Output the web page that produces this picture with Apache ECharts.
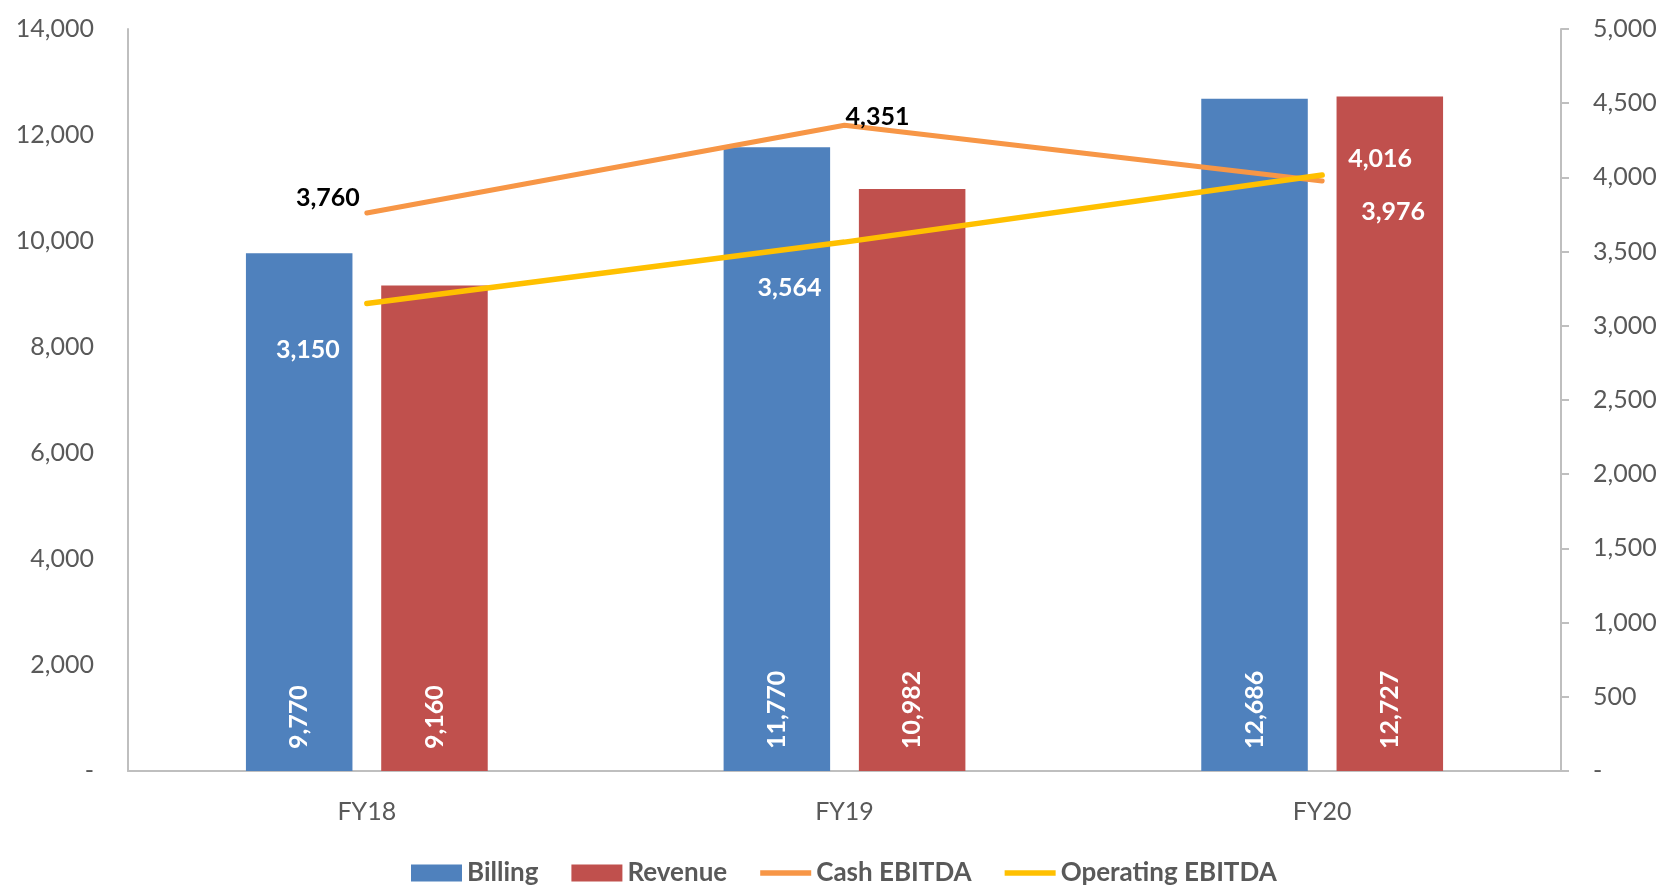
<!DOCTYPE html>
<html>
<head>
<meta charset="utf-8">
<script src="https://cdn.jsdelivr.net/npm/echarts@6/dist/echarts.min.js"></script>
<style>
html,body{margin:0;padding:0;background:#fff;}
#chart{width:1665px;height:887px;}
</style>
</head>
<body>
<div id="chart"></div>
<script>
const categories = ['FY18', 'FY19', 'FY20'];
const billing = [9770, 11770, 12686];
const revenue = [9160, 10982, 12727];
const cashEbitda = [3760, 4351, 3976];
const operatingEbitda = [3150, 3564, 4016];
const leftTicks = { min: 0, max: 14000, interval: 2000 };
const rightTicks = { min: 0, max: 5000, interval: 500 };

// label placement (style only)
const cashLabelOffsets = [[-39, -15], [33, -8], [71, 31]];
const cashLabelColors = ['#000000', '#000000', '#ffffff'];
const opLabelOffsets = [[-59, 46], [-55, 46], [58, -16]];
const opLabelColors = ['#ffffff', '#ffffff', '#ffffff'];

const FONT = 'Lato';
const fmt = v => v === 0 ? '-' : Number(v).toLocaleString('en-US');

function lineData(vals, offsets, colors) {
  return vals.map((v, i) => ({
    value: v,
    label: { offset: offsets[i], color: colors[i] }
  }));
}

const chart = echarts.init(document.getElementById('chart'), null, { renderer: 'canvas' });
const barLabel = {
  show: true,
  position: 'insideBottom',
  rotate: 90,
  align: 'left',
  verticalAlign: 'middle',
  distance: 22,
  color: '#ffffff',
  fontFamily: FONT,
  fontWeight: 'bold',
  fontSize: 25,
  formatter: p => fmt(p.value)
};
const lineLabel = {
  show: true,
  position: 'inside',
  fontFamily: FONT,
  fontWeight: 'bold',
  fontSize: 25,
  formatter: p => fmt(p.value)
};
const lineIcon = 'path://M0,0 L9,0 L9,1 L0,1 Z';

chart.setOption({
  animation: false,
  backgroundColor: '#ffffff',
  color: ['#4F81BD', '#C0504D', '#F79646', '#FFC000'],
  grid: { left: 128, right: 104, top: 29, bottom: 116, containLabel: false },
  legend: {
    top: 855,
    left: 406,
    itemWidth: 51,
    itemHeight: 17,
    itemGap: 33,
    textStyle: { fontFamily: FONT, fontWeight: 'bold', fontSize: 26, color: '#595959' },
    data: [
      { name: 'Billing', icon: 'rect' },
      { name: 'Revenue', icon: 'rect' },
      { name: 'Cash EBITDA', icon: lineIcon },
      { name: 'Operating EBITDA', icon: lineIcon }
    ]
  },
  xAxis: {
    type: 'category',
    data: categories,
    axisLine: { show: true, lineStyle: { color: '#BFBFBF', width: 2 } },
    axisTick: { show: false },
    axisLabel: { margin: 28, fontFamily: FONT, fontSize: 25, color: '#595959' }
  },
  yAxis: [
    {
      type: 'value',
      min: leftTicks.min, max: leftTicks.max, interval: leftTicks.interval,
      axisLine: { show: true, lineStyle: { color: '#BFBFBF', width: 2 } },
      axisTick: { show: false },
      splitLine: { show: false },
      axisLabel: { margin: 34, fontFamily: FONT, fontSize: 25, color: '#595959', formatter: fmt }
    },
    {
      type: 'value',
      position: 'right',
      min: rightTicks.min, max: rightTicks.max, interval: rightTicks.interval,
      axisLine: { show: true, lineStyle: { color: '#BFBFBF', width: 2 } },
      axisTick: { show: true, inside: false, length: 8, lineStyle: { color: '#BFBFBF', width: 2 } },
      splitLine: { show: false },
      axisLabel: { margin: 32, fontFamily: FONT, fontSize: 25, color: '#595959', formatter: fmt }
    }
  ],
  series: [
    {
      name: 'Billing', type: 'bar', yAxisIndex: 0,
      data: billing, barWidth: '22.3%', barGap: '27%',
      label: barLabel, z: 2
    },
    {
      name: 'Revenue', type: 'bar', yAxisIndex: 0,
      data: revenue, barWidth: '22.3%', barGap: '27%',
      label: barLabel, z: 2
    },
    {
      name: 'Cash EBITDA', type: 'line', yAxisIndex: 1,
      data: lineData(cashEbitda, cashLabelOffsets, cashLabelColors),
      symbol: 'circle', symbolSize: 1, showSymbol: true,
      lineStyle: { width: 5, color: '#F79646', cap: 'round' },
      itemStyle: { color: '#F79646' },
      label: lineLabel, z: 5
    },
    {
      name: 'Operating EBITDA', type: 'line', yAxisIndex: 1,
      data: lineData(operatingEbitda, opLabelOffsets, opLabelColors),
      symbol: 'circle', symbolSize: 1, showSymbol: true,
      lineStyle: { width: 5.5, color: '#FFC000', cap: 'round' },
      itemStyle: { color: '#FFC000' },
      label: lineLabel, z: 6
    }
  ]
});
</script>
</body>
</html>
